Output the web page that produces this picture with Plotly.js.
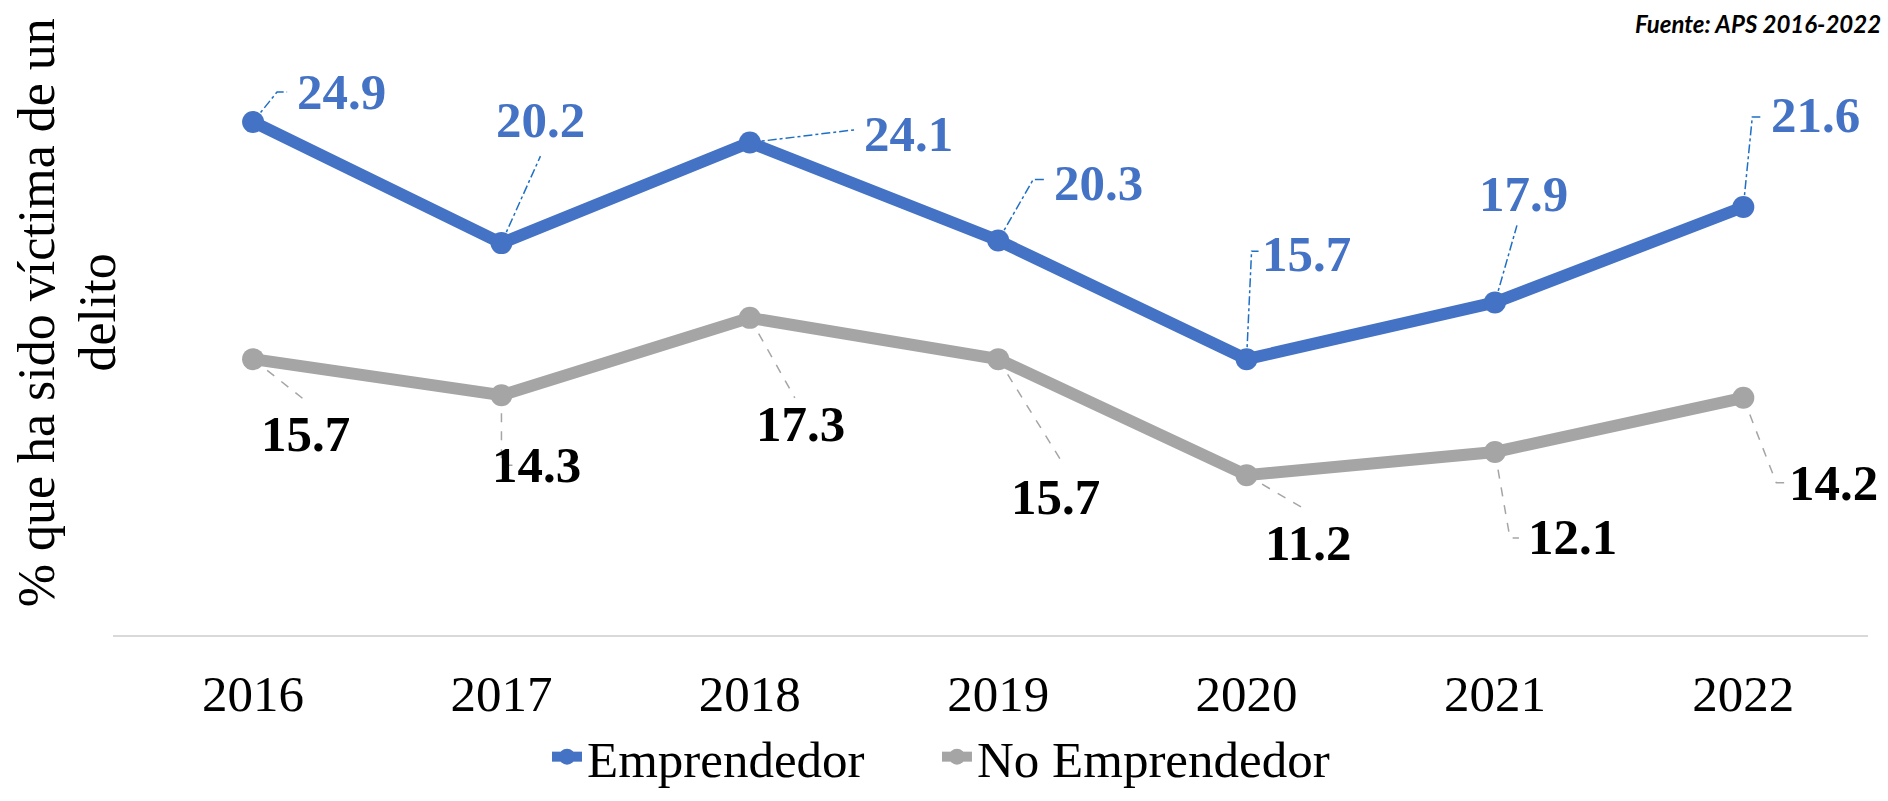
<!DOCTYPE html>
<html>
<head>
<meta charset="utf-8">
<script src="https://cdn.plot.ly/plotly-3.0.1.min.js"></script>
<style>
  html, body { margin: 0; padding: 0; background: #fff; }
  #chart { width: 1888px; height: 801px; }
</style>
</head>
<body>
<div id="chart"></div>
<script>
// ---- data ----
const years = ['2016', '2017', '2018', '2019', '2020', '2021', '2022'];
const emprendedor = [24.9, 20.2, 24.1, 20.3, 15.7, 17.9, 21.6];
const noEmprendedor = [15.7, 14.3, 17.3, 15.7, 11.2, 12.1, 14.2];
const seriesNames = ['Emprendedor', 'No Emprendedor'];
const yTitleLines = ['% que ha sido víctima de un', 'delito'];
const sourceText = 'Fuente: APS 2016-2022';

// ---- styling ----
const SERIF = 'Liberation Serif, Times New Roman, serif';
const BLUE = '#4472C4';
const GRAY = '#A5A5A5';
const LEADER_BLUE = '#1F6FC5';

// label placement (pixel offsets from each point: [dx right, dy up])
const empLabelShift = [[88, 30], [39, 123], [159, 9], [100, 58], [60, 105], [29, 108], [72, 92]];
const noLabelShift = [[52, -75], [35, -70], [51, -106], [57, -138], [61, -68], [78, -85], [90, -85]];
// leader line paths (pixel offsets from each point, y up)
const empLeader = [
  [[0, 0], [24, 30], [34, 30]],
  [[0, 0], [39, 87]],
  [[0, 0], [107, 13]],
  [[0, 0], [35, 61], [47, 61]],
  [[0, 0], [5, 108], [12, 108]],
  [[0, 0], [22, 77]],
  [[0, 0], [9, 90], [17, 90]]
];
const noLeader = [
  [[0, 0], [53, -42]],
  [[0, 0], [0, -70], [13, -70]],
  [[0, 0], [45, -80]],
  [[0, 0], [62, -100]],
  [[0, 0], [60, -35]],
  [[0, 0], [15, -86], [24, -86]],
  [[0, 0], [33, -85], [41, -85]]
];

function pathOf(pts) {
  return pts.map((p, k) => (k === 0 ? 'M' : 'L') + p[0] + ',' + p[1]).join(' ');
}

const traces = [
  {
    x: years, y: emprendedor, name: seriesNames[0], type: 'scatter', mode: 'lines+markers',
    line: { color: BLUE, width: 12 }, marker: { color: BLUE, size: 22 },
    legend: 'legend', hoverinfo: 'x+y'
  },
  {
    x: years, y: noEmprendedor, name: seriesNames[1], type: 'scatter', mode: 'lines+markers',
    line: { color: GRAY, width: 12 }, marker: { color: GRAY, size: 22 },
    legend: 'legend2', hoverinfo: 'x+y'
  }
];

const annotations = [];
const shapes = [];
years.forEach((yr, i) => {
  annotations.push({
    x: i, y: emprendedor[i], xref: 'x', yref: 'y', showarrow: false,
    text: '<b>' + emprendedor[i].toFixed(1) + '</b>',
    xanchor: 'center', yanchor: 'middle',
    xshift: empLabelShift[i][0], yshift: empLabelShift[i][1],
    font: { family: SERIF, size: 51, color: BLUE }
  });
  annotations.push({
    x: i, y: noEmprendedor[i], xref: 'x', yref: 'y', showarrow: false,
    text: '<b>' + noEmprendedor[i].toFixed(1) + '</b>',
    xanchor: 'center', yanchor: 'middle',
    xshift: noLabelShift[i][0], yshift: noLabelShift[i][1],
    font: { family: SERIF, size: 51, color: '#000000' }
  });
  shapes.push({
    type: 'path', layer: 'below', xref: 'x', yref: 'y',
    xsizemode: 'pixel', ysizemode: 'pixel', xanchor: i, yanchor: emprendedor[i],
    path: pathOf(empLeader[i]),
    line: { color: LEADER_BLUE, width: 1.5, dash: 'dashdot' }
  });
  shapes.push({
    type: 'path', layer: 'below', xref: 'x', yref: 'y',
    xsizemode: 'pixel', ysizemode: 'pixel', xanchor: i, yanchor: noEmprendedor[i],
    path: pathOf(noLeader[i]),
    line: { color: GRAY, width: 1.5, dash: 'dash' }
  });
});

// y-axis title (two lines, rotated)
annotations.push({
  xref: 'paper', yref: 'paper', x: -0.0439, y: 0.5440, showarrow: false,
  text: yTitleLines[0], textangle: -90, xanchor: 'center', yanchor: 'middle',
  font: { family: SERIF, size: 52, color: '#000000' }
});
annotations.push({
  xref: 'paper', yref: 'paper', x: -0.0090, y: 0.5440, showarrow: false,
  text: yTitleLines[1], textangle: -90, xanchor: 'center', yanchor: 'middle',
  font: { family: SERIF, size: 52, color: '#000000' }
});
// source note
annotations.push({
  xref: 'paper', yref: 'paper', x: 1.0085, y: 1.0304, showarrow: false,
  text: '<b><i>' + sourceText + '</i></b>', xanchor: 'right', yanchor: 'middle',
  font: { family: 'Lato, sans-serif', size: 24, color: '#000000' }
});

const legendBase = {
  orientation: 'h', xanchor: 'left', y: -0.2732, yanchor: 'bottom',
  font: { family: SERIF, size: 51, color: '#000000' },
  bgcolor: 'rgba(0,0,0,0)'
};

const layout = {
  width: 1888, height: 801,
  margin: { l: 113, r: 20, t: 42, b: 166, pad: 0, autoexpand: false },
  paper_bgcolor: '#ffffff', plot_bgcolor: '#ffffff',
  showlegend: true,
  legend: Object.assign({}, legendBase, { x: 0.2473 }),
  legend2: Object.assign({}, legendBase, { x: 0.4695 }),
  xaxis: {
    type: 'category', range: [-0.564, 6.502], showgrid: false, zeroline: false,
    showline: true, linecolor: '#D9D9D9', linewidth: 1.5, ticks: '',
    tickfont: { family: SERIF, size: 51, color: '#000000' },
    ticklabelstandoff: 13, fixedrange: true
  },
  yaxis: {
    range: [5, 28], visible: false, showgrid: false, zeroline: false, fixedrange: true
  },
  annotations: annotations,
  shapes: shapes
};

Plotly.newPlot('chart', traces, layout, { displayModeBar: false, staticPlot: true });
</script>
</body>
</html>
